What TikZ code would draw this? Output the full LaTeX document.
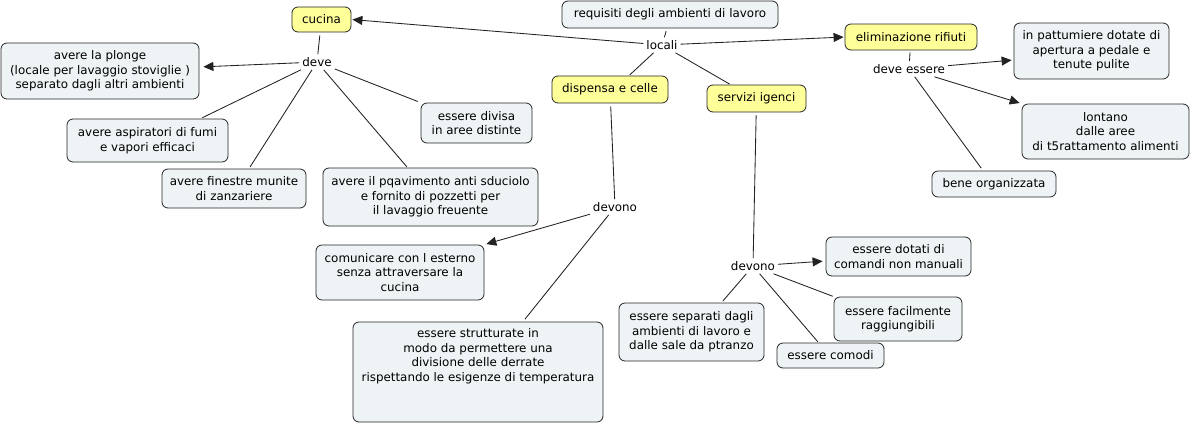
\documentclass[tikz,border=0pt]{standalone}
\usepackage{fontspec}
\setmainfont{DejaVu Sans}
\usetikzlibrary{arrows.meta}
\definecolor{boxfill}{HTML}{EEF3F5}
\definecolor{yel}{HTML}{FFFF99}
\definecolor{edge}{HTML}{222222}
\begin{document}
\begin{tikzpicture}[x=1pt,y=-1pt,
  txt/.style={font=\fontsize{11.9}{14.5}\selectfont, align=center, text=black},
  box/.style={txt, draw=black!85, line width=0.8pt, rounded corners=6pt, fill=boxfill, inner sep=0pt},
  ybox/.style={box, fill=yel},
  sz/.style 2 args={minimum width=#1, minimum height=#2},
  lp/.style={txt, inner sep=3pt},
  con/.style={draw=edge, line width=0.85pt},
  arr/.style={con, -{Triangle[length=10pt,width=9pt]}},
]
\useasboundingbox[fill=white] (0,0) rectangle (1192,424);

% concept boxes
\node[ybox, sz={59}{25}] (cucina) at (321.5,19.5) {cucina};
\node[box, sz={216}{27}] (req) at (670,14.5) {requisiti degli ambienti di lavoro};
\node[ybox, sz={132}{26}] (elim) at (911,37) {eliminazione rifiuti};
\node[box, sz={155}{56}] (patt) at (1091.5,51) {in pattumiere dotate di\\apertura a pedale e\\tenute pulite};
\node[box, sz={167}{55}] (lont) at (1105.5,131.5) {lontano\\dalle aree\\di t5rattamento alimenti};
\node[box, sz={124}{26}] (bene) at (994,184) {bene organizzata};
\node[box, sz={198}{56}] (plonge) at (100,71) {avere la plonge\\(locale per lavaggio stoviglie )\\separato dagli altri ambienti};
\node[box, sz={161}{43}] (asp) at (147.5,140.5) {avere aspiratori di fumi\\e vapori efficaci};
\node[box, sz={144}{39}] (fin) at (234,188.5) {avere finestre munite\\di zanzariere};
\node[box, sz={111}{40}] (div) at (476.5,123) {essere divisa\\in aree distinte};
\node[ybox, sz={116}{27}] (disp) at (610,89.5) {dispensa e celle};
\node[ybox, sz={99}{27}] (serv) at (756.5,98.5) {servizi igenci};
\node[box, sz={215}{58}] (pav) at (430.5,197) {avere il pqavimento anti sduciolo\\e fornito di pozzetti per\\il lavaggio freuente};
\node[box, sz={168}{55}] (com) at (400,272.5) {comunicare con l esterno\\senza attraversare la\\cucina};
\node[box, sz={250}{100}] (strutt) at (478,372) {};
\node[txt] (strutttxt) at (478,356) {essere strutturate in\\modo da permettere una\\divisione delle derrate\\rispettando le esigenze di temperatura};
\node[box, sz={145}{39}] (dot) at (898.5,256.5) {essere dotati di\\comandi non manuali};
\node[box, sz={128}{44}] (fac) at (898,319) {essere facilmente\\raggiungibili};
\node[box, sz={107}{25}] (comodi) at (830.5,355.5) {essere comodi};
\node[box, sz={145}{58}] (sep) at (691.5,332) {essere separati dagli\\ambienti di lavoro e\\dalle sale da ptranzo};

% linking phrases
\node[lp] (locali) at (662,45) {locali};
\node[lp] (deve) at (317,62) {deve};
\node[lp] (devonoA) at (615,207) {devono};
\node[lp] (devonoB) at (753,266) {devono};
\node[lp] (deveess) at (909,69) {deve essere};

% connectors
\draw[con, shorten <=3pt] ([xshift=-3pt]req.south) -- (locali);
\draw[arr, shorten >=1pt] (locali) -- (cucina.east);
\draw[arr, shorten >=1pt] (locali) -- (elim.west);
\draw[con, shorten >=1pt] (locali) -- ([xshift=19pt]disp.north);
\draw[con, shorten >=1pt] (locali) -- ([xshift=-26pt]serv.north);

\draw[con, shorten <=3pt] (cucina) -- (deve);
\draw[arr, shorten >=4pt] (deve) -- ([yshift=4pt]plonge.east);
\draw[con, shorten >=2pt] (deve) -- ([xshift=53pt]asp.north);
\draw[con, shorten >=2pt] (deve) -- ([xshift=15pt]fin.north);
\draw[con, shorten >=1pt] (deve) -- ([xshift=-23pt]pav.north);
\draw[con, shorten >=3pt] (deve) -- (div.north west);

\draw[con, shorten <=3pt] (disp) -- (devonoA);
\draw[arr, shorten >=2pt] (devonoA) -- (com.north east);
\draw[con, shorten >=3pt] (devonoA) -- ([xshift=45pt]strutt.north);

\draw[con, shorten <=3pt] (serv) -- (devonoB);
\draw[arr, shorten >=3pt] (devonoB) -- ([yshift=-4.5pt]dot.west);
\draw[con, shorten >=2pt] (devonoB) -- ([xshift=30pt]sep.north);
\draw[con, shorten >=1pt] (devonoB) -- ([xshift=-12pt]comodi.north);
\draw[con, shorten >=1pt] (devonoB) -- (fac.north west);

\draw[con, shorten <=2pt] (elim) -- (deveess);
\draw[arr, shorten >=2pt] (deveess) -- ([yshift=-9pt]patt.west);
\draw[arr, shorten >=2pt] (deveess) -- (lont.north west);
\draw[con, shorten >=3pt] (deveess) -- ([xshift=-11pt]bene.north);
\end{tikzpicture}
\end{document}
